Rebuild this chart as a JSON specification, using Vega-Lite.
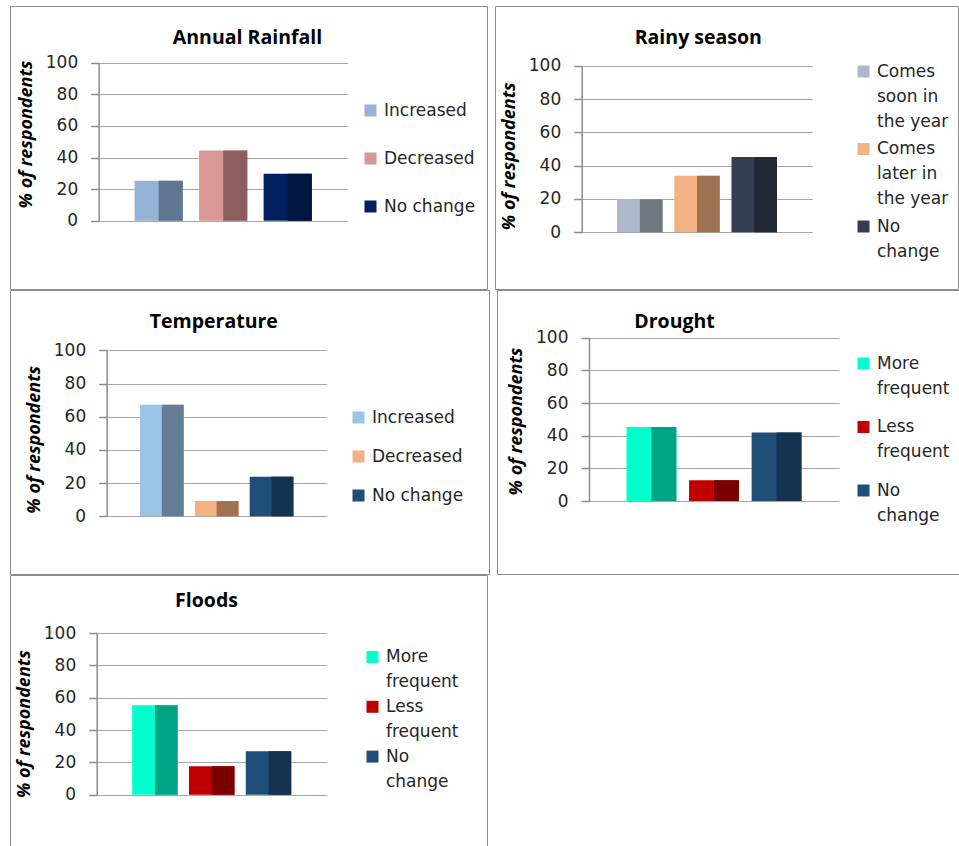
{
  "$schema": "https://vega.github.io/schema/vega-lite/v6.json",
  "background": "white",
  "padding": {"left": 9, "top": 5, "right": 0, "bottom": 0},
  "spacing": -1,
  "resolve": {"scale": {"color": "independent"}},
  "vconcat": [
    {
      "spacing": 6,
      "resolve": {"scale": {"color": "independent"}},
      "hconcat": [
        {
          "width": 477, "height": 283,
          "title": {"text": "Annual Rainfall", "dx": -1, "offset": -42},
          "data": {"values": [
            {"category": "Increased", "percent": 25.3},
            {"category": "Decreased", "percent": 44.5},
            {"category": "No change", "percent": 29.7}
          ]},
          "encoding": {
            "x": {"field": "category", "type": "nominal", "sort": null, "axis": null,
                  "scale": {"range": [88.7, 337.7], "paddingInner": 0.253, "paddingOuter": 0.556}},
            "y": {"field": "percent", "type": "quantitative", "title": "% of respondents",
                  "scale": {"domain": [0, 100], "range": [214.7, 56.7]},
                  "axis": {"offset": -88.7, "values": [0, 20, 40, 60, 80, 100], "titleY": 128}}
          },
          "layer": [
            {"mark": {"type": "bar"},
             "encoding": {"color": {"field": "category", "type": "nominal",
               "scale": {"domain": ["Increased", "Decreased", "No change"], "range": ["#95B3D7", "#D99694", "#002060"]},
               "legend": {"orient": "none", "legendX": 352, "legendY": 96, "rowPadding": 30}}}},
            {"mark": {"type": "bar", "width": {"band": 0.5}, "xOffset": 12.05},
             "encoding": {"color": {"field": "category", "type": "nominal",
               "scale": {"domain": ["Increased", "Decreased", "No change"], "range": ["#5F7590", "#8C5F5E", "#001540"]},
               "legend": null}}}
          ],
          "resolve": {"scale": {"color": "independent"}}
        },
        {
          "width": 463, "height": 283,
          "title": {"text": "Rainy season", "dx": -28.2, "offset": -42},
          "data": {"values": [
            {"category": "Comes soon in the year", "percent": 19.8},
            {"category": "Comes later in the year", "percent": 34},
            {"category": "No change", "percent": 45.2}
          ]},
          "encoding": {
            "x": {"field": "category", "type": "nominal", "sort": null, "axis": null,
                  "scale": {"range": [86.7, 317.3], "paddingInner": 0.205, "paddingOuter": 0.618}},
            "y": {"field": "percent", "type": "quantitative", "title": "% of respondents",
                  "scale": {"domain": [0, 100], "range": [226.3, 59.7]},
                  "axis": {"offset": -86.7, "values": [0, 20, 40, 60, 80, 100], "titleY": 149.8}}
          },
          "layer": [
            {"mark": {"type": "bar"},
             "encoding": {"color": {"field": "category", "type": "nominal",
               "scale": {"domain": ["Comes soon in the year", "Comes later in the year", "No change"], "range": ["#ADB9CA", "#F4B183", "#333F50"]},
               "legend": {"orient": "none", "legendX": 360, "legendY": 57, "rowPadding": 9.5, "labelBaseline": "middle",
                 "labelExpr": "datum.label == 'Comes soon in the year' ? ['Comes', 'soon in', 'the year'] : datum.label == 'Comes later in the year' ? ['Comes', 'later in', 'the year'] : ['No', 'change']"}}}},
            {"mark": {"type": "bar", "width": {"band": 0.5}, "xOffset": 11.4},
             "encoding": {"color": {"field": "category", "type": "nominal",
               "scale": {"domain": ["Comes soon in the year", "Comes later in the year", "No change"], "range": ["#6F7780", "#9E7153", "#212833"]},
               "legend": null}}}
          ],
          "resolve": {"scale": {"color": "independent"}}
        }
      ]
    },
    {
      "spacing": 6,
      "resolve": {"scale": {"color": "independent"}},
      "hconcat": [
        {
          "width": 479, "height": 284,
          "title": {"text": "Temperature", "dx": -35.7, "offset": -42.4},
          "data": {"values": [
            {"category": "Increased", "percent": 67.2},
            {"category": "Decreased", "percent": 9.2},
            {"category": "No change", "percent": 23.9}
          ]},
          "encoding": {
            "x": {"field": "category", "type": "nominal", "sort": null, "axis": null,
                  "scale": {"range": [96.7, 316.7], "paddingInner": 0.203, "paddingOuter": 0.607}},
            "y": {"field": "percent", "type": "quantitative", "title": "% of respondents",
                  "scale": {"domain": [0, 100], "range": [226.3, 60.3]},
                  "axis": {"offset": -96.7, "values": [0, 20, 40, 60, 80, 100], "titleY": 149.3}}
          },
          "layer": [
            {"mark": {"type": "bar"},
             "encoding": {"color": {"field": "category", "type": "nominal",
               "scale": {"domain": ["Increased", "Decreased", "No change"], "range": ["#9DC3E6", "#F4B183", "#1F4E79"]},
               "legend": {"orient": "none", "legendX": 340, "legendY": 119, "rowPadding": 21}}}},
            {"mark": {"type": "bar", "width": {"band": 0.5}, "xOffset": 10.9},
             "encoding": {"color": {"field": "category", "type": "nominal",
               "scale": {"domain": ["Increased", "Decreased", "No change"], "range": ["#647D94", "#9E7153", "#15324E"]},
               "legend": null}}}
          ],
          "resolve": {"scale": {"color": "independent"}}
        },
        {
          "width": 462, "height": 284,
          "title": {"text": "Drought", "dx": -53.5, "offset": -42.4},
          "data": {"values": [
            {"category": "More frequent", "percent": 45.3},
            {"category": "Less frequent", "percent": 12.7},
            {"category": "No change", "percent": 42}
          ]},
          "encoding": {
            "x": {"field": "category", "type": "nominal", "sort": null, "axis": null,
                  "scale": {"range": [92, 342], "paddingInner": 0.203, "paddingOuter": 0.6}},
            "y": {"field": "percent", "type": "quantitative", "title": "% of respondents",
                  "scale": {"domain": [0, 100], "range": [211, 47.7]},
                  "axis": {"offset": -92, "values": [0, 20, 40, 60, 80, 100], "titleY": 131}}
          },
          "layer": [
            {"mark": {"type": "bar"},
             "encoding": {"color": {"field": "category", "type": "nominal",
               "scale": {"domain": ["More frequent", "Less frequent", "No change"], "range": ["#00FFCC", "#C00000", "#1F4E79"]},
               "legend": {"orient": "none", "legendX": 358, "legendY": 65, "rowPadding": 20.5, "labelBaseline": "middle",
                 "labelExpr": "datum.label == 'More frequent' ? ['More', 'frequent'] : datum.label == 'Less frequent' ? ['Less', 'frequent'] : ['No', 'change']"}}}},
            {"mark": {"type": "bar", "width": {"band": 0.5}, "xOffset": 12.45},
             "encoding": {"color": {"field": "category", "type": "nominal",
               "scale": {"domain": ["More frequent", "Less frequent", "No change"], "range": ["#00A383", "#7A0000", "#15324E"]},
               "legend": null}}}
          ],
          "resolve": {"scale": {"color": "independent"}}
        }
      ]
    },
    {
      "width": 477, "height": 272,
      "title": {"text": "Floods", "dx": -42, "offset": -36.7},
      "data": {"values": [
        {"category": "More frequent", "percent": 55.3},
        {"category": "Less frequent", "percent": 17.6},
        {"category": "No change", "percent": 26.8}
      ]},
      "encoding": {
        "x": {"field": "category", "type": "nominal", "sort": null, "axis": null,
              "scale": {"range": [86.7, 316.7], "paddingInner": 0.2, "paddingOuter": 0.625}},
        "y": {"field": "percent", "type": "quantitative", "title": "% of respondents",
              "scale": {"domain": [0, 100], "range": [219.7, 58]},
              "axis": {"offset": -86.7, "values": [0, 20, 40, 60, 80, 100], "titleY": 148.7}}
      },
      "layer": [
        {"mark": {"type": "bar"},
         "encoding": {"color": {"field": "category", "type": "nominal",
           "scale": {"domain": ["More frequent", "Less frequent", "No change"], "range": ["#00FFCC", "#C00000", "#1F4E79"]},
           "legend": {"orient": "none", "legendX": 354, "legendY": 73.5, "rowPadding": 6.8, "labelBaseline": "middle",
             "labelExpr": "datum.label == 'More frequent' ? ['More', 'frequent'] : datum.label == 'Less frequent' ? ['Less', 'frequent'] : ['No', 'change']"}}}},
        {"mark": {"type": "bar", "width": {"band": 0.5}, "xOffset": 11.4},
         "encoding": {"color": {"field": "category", "type": "nominal",
           "scale": {"domain": ["More frequent", "Less frequent", "No change"], "range": ["#00A383", "#7A0000", "#15324E"]},
           "legend": null}}}
      ],
      "resolve": {"scale": {"color": "independent"}}
    }
  ],
  "config": {
    "view": {"stroke": "#8c8c8c", "strokeWidth": 1},
    "axis": {
      "grid": true,
      "gridColor": "#a6a6a6",
      "gridWidth": 1,
      "domainColor": "#8c8c8c",
      "domainWidth": 1.5,
      "tickColor": "#8c8c8c",
      "tickWidth": 1.5,
      "tickSize": 8,
      "labelFont": "DejaVu Sans",
      "labelFontSize": 17,
      "labelColor": "#262626",
      "labelPadding": 13,
      "titleFont": "Open Sans",
      "titleFontSize": 18,
      "titleFontWeight": "bold",
      "titleFontStyle": "italic",
      "titleColor": "#000000",
      "titlePadding": 10
    },
    "legend": {
      "title": null,
      "padding": 0,
      "symbolType": "square",
      "symbolSize": 144,
      "symbolStrokeWidth": 0,
      "labelFont": "DejaVu Sans",
      "labelFontSize": 17,
      "labelColor": "#262626",
      "labelOffset": 5,
      "labelLimit": 0
    },
    "title": {
      "font": "Open Sans",
      "fontSize": 19.5,
      "fontWeight": "bold",
      "color": "#000000",
      "anchor": "middle",
      "frame": "group",
      "baseline": "alphabetic"
    },
    "style": {"guide-label": {"lineHeight": 25}}
  }
}
